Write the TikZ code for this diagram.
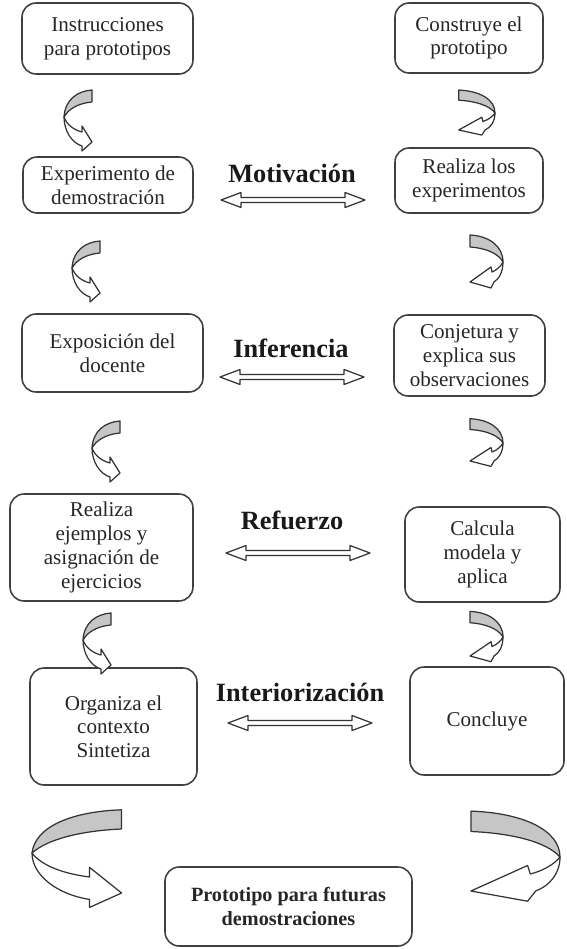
\documentclass[tikz,border=0pt]{standalone}
\usepackage{fontspec}
\setmainfont{Liberation Serif}
\begin{document}
\begin{tikzpicture}[x=0.02cm,y=-0.02cm,
  box/.style={draw=black!75,line width=0.9pt,rounded corners=8pt,align=center,
    font=\fontsize{12}{13.5}\selectfont,text=black!85,inner sep=2pt},
  stage/.style={font=\fontsize{15}{17}\selectfont\bfseries,text=black!90},
  outline/.style={draw=black!80,line width=0.7pt,line join=round},
  pics/swap/.style={code={
    \draw[outline,fill=white] (-72,0) -- (-52,-7.5) -- (-52,-2.5) -- (52,-2.5) -- (52,-7.5) -- (72,0)
      -- (52,7.5) -- (52,2.5) -- (-52,2.5) -- (-52,7.5) -- cycle;}},
  pics/turnL/.style={code={
    \draw[outline,fill=white] (0,0) .. controls (0,14) and (8,26) .. (18,29) -- (18,34) -- (28,25)
      -- (18,9) -- (18,15) .. controls (10,13) and (3,8) .. (0,0) -- cycle;
    \draw[outline,fill=gray!45] (0,0) .. controls (1,-17) and (13,-26) .. (28,-27) -- (28,-15)
      .. controls (16,-14) and (5,-9) .. (0,0) -- cycle;}},
  pics/turnR/.style={code={
    \draw[outline,fill=white] (0,0) .. controls (0,10) and (-4,17) .. (-9,20) -- (-12,26) -- (-33,20)
      -- (-12,5) -- (-11,10) .. controls (-6,8) and (-2,4) .. (0,0) -- cycle;
    \draw[outline,fill=gray!45] (0,0) .. controls (0,-16) and (-14,-26) .. (-33,-27) -- (-33,-15)
      .. controls (-18,-14) and (-5,-9) .. (0,0) -- cycle;}}]
\useasboundingbox (0,0) rectangle (566,949);

% teacher side
\node[box,minimum width=3.42cm,minimum height=1.42cm] (instr) at (107.5,38.5) {Instrucciones\\para prototipos};
\node[box,minimum width=3.4cm,minimum height=1.12cm] (exper) at (108,185) {Experimento de\\demostración};
\node[box,minimum width=3.62cm,minimum height=1.56cm] (expos) at (112.5,353) {Exposición del\\docente};
\node[box,minimum width=3.66cm,minimum height=2.14cm] (ejem) at (101.5,547.5) {Realiza\\ejemplos y\\asignación de\\ejercicios};
\node[box,minimum width=3.34cm,minimum height=2.34cm] (organ) at (113.5,726.5) {Organiza el\\contexto\\Sintetiza};

% student side
\node[box,minimum width=2.96cm,minimum height=1.4cm] (constr) at (469,38) {Construye el\\prototipo};
\node[box,minimum width=2.96cm,minimum height=1.3cm] (realiz) at (469,180.5) {Realiza los\\experimentos};
\node[box,minimum width=3.02cm,minimum height=1.62cm] (conjet) at (469.5,355.5) {Conjetura y\\explica sus\\observaciones};
\node[box,minimum width=3.1cm,minimum height=1.9cm] (calc) at (482.5,554.5) {Calcula\\modela y\\aplica};
\node[box,minimum width=3.08cm,minimum height=2.16cm] (concl) at (487,721) {Concluye};

\node[box,minimum width=4.94cm,minimum height=1.58cm,font=\fontsize{11.5}{14}\selectfont\bfseries] (proto) at (288.5,906.5) {Prototipo para futuras\\demostraciones};

% stages
\node[stage] (motiv) at (292,173) {Motivación};
\node[stage] (infer) at (291,348) {Inferencia};
\node[stage] (refu) at (292,520) {Refuerzo};
\node[stage] (inter) at (300,692) {Interiorización};
\pic (smotiv) at (293,200) {swap};
\pic (sinfer) at (292,377) {swap};
\pic (srefu) at (298,553) {swap};
\pic (sinter) at (300,723) {swap};

% turning arrows
\pic (tl1) at (64,117) {turnL};
\pic (tl2) at (72,268) {turnL};
\pic (tl3) at (92,448) {turnL};
\pic (tl4) at (83,640) {turnL};
\pic[xscale=1.1,yscale=0.85] (tr1) at (495,113) {turnR};
\pic (tr2) at (503,262) {turnR};
\pic[yscale=0.9] (tr3) at (503,443) {turnR};
\pic[yscale=0.95] (tr4) at (503,637) {turnR};
\pic[xscale=3.2,yscale=1.6] (tl5) at (32,853) {turnL};
\pic[xscale=2.7,yscale=1.7] (tr5) at (560,857) {turnR};
\end{tikzpicture}
\end{document}
